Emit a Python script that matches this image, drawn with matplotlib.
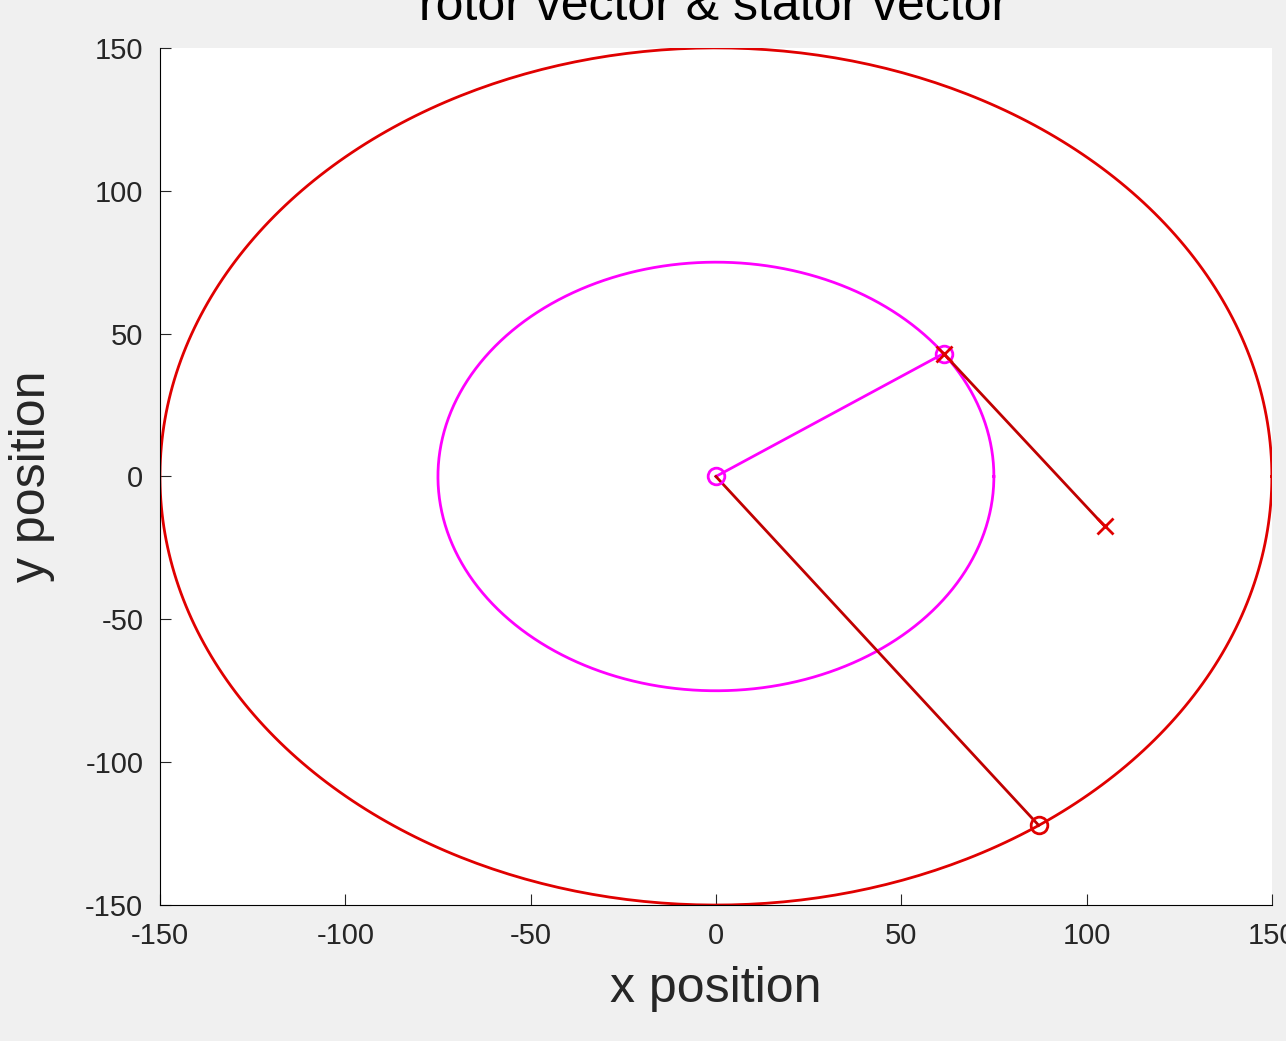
import numpy as np
import matplotlib
matplotlib.use("Agg")
import matplotlib.pyplot as plt

plt.rcParams['font.family'] = ['Liberation Sans', 'DejaVu Sans']
plt.rcParams['axes.unicode_minus'] = False

stator_radius = 150
rotor_radius = 75
rotor_angle_deg = 35
stator_angle_deg = -54.5
tip_offset = [43.5, -60.5]
ticks = [-150, -100, -50, 0, 50, 100, 150]

fig = plt.figure(figsize=(12.86, 10.41), dpi=100, facecolor="#f0f0f0")
ax = fig.add_axes([0.1244, 0.1306, 0.8646, 0.8234])
t = np.linspace(0, 2*np.pi, 400)
ax.plot(stator_radius*np.cos(t), stator_radius*np.sin(t), color="#e00000", lw=2)
ax.plot(rotor_radius*np.cos(t), rotor_radius*np.sin(t), color="#ff00ff", lw=2)

ra = np.deg2rad(rotor_angle_deg); sa = np.deg2rad(stator_angle_deg)
rx, ry = rotor_radius*np.cos(ra), rotor_radius*np.sin(ra)
sx, sy = stator_radius*np.cos(sa), stator_radius*np.sin(sa)
tx, ty = rx + tip_offset[0], ry + tip_offset[1]

ax.plot([0, rx], [0, ry], color="#ff00ff", lw=2)
ax.plot([0, sx], [0, sy], color="#c00000", lw=2)
ax.plot([rx, tx], [ry, ty], color="#c00000", lw=2)
ax.plot([0, rx], [0, ry], "o", mfc="none", mec="#ff00ff", ms=12, mew=2)
ax.plot([sx], [sy], "o", mfc="none", mec="#e00000", ms=12, mew=2)
ax.plot([rx, tx], [ry, ty], "x", color="#e00000", ms=12, mew=2)

ax.set_xlim(-150, 150); ax.set_ylim(-150, 150)
ax.set_xticks(ticks); ax.set_yticks(ticks)
ax.tick_params(labelsize=21, direction="in", length=8, pad=12, colors="#262626")
for s in ["top", "right"]:
    ax.spines[s].set_visible(False)
ax.set_xlabel("x position", fontsize=36, color="#262626", labelpad=12)
ax.set_ylabel("y position", fontsize=36, color="#262626", labelpad=22)
fig.text(0.555, 0.993, "rotor vector & stator vector", fontsize=36,
         ha="center", va="center", color="black")
fig.savefig("out.png", dpi=100, facecolor=fig.get_facecolor())
